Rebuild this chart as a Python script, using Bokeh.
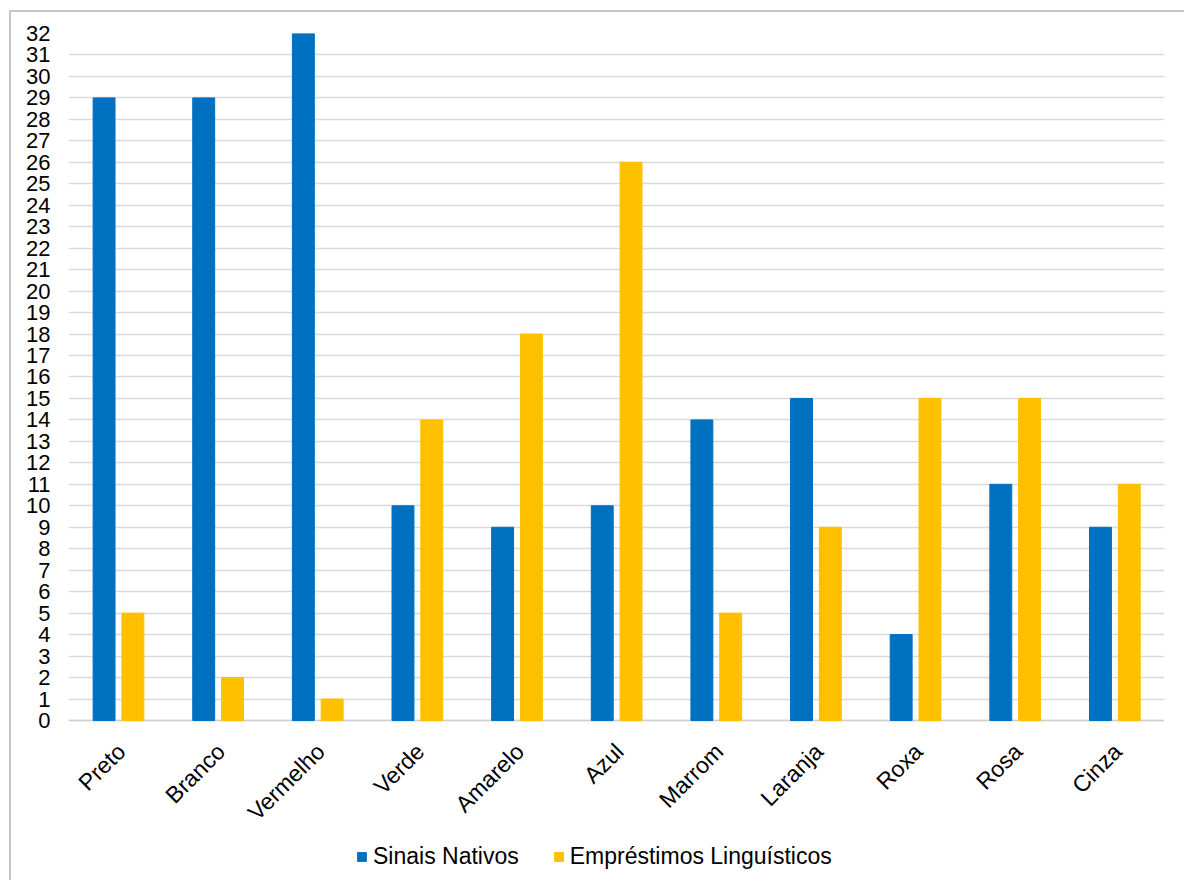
from bokeh.plotting import figure
from bokeh.models import (ColumnDataSource, FixedTicker, Legend, LegendItem,
                          InlineStyleSheet, Span)
from bokeh.core.properties import value
from bokeh.transform import dodge
from bokeh.embed import file_html
from bokeh.resources import INLINE
import math

# Colour terms and counts of signs per type
cores = ["Preto", "Branco", "Vermelho", "Verde", "Amarelo", "Azul",
         "Marrom", "Laranja", "Roxa", "Rosa", "Cinza"]
sinais_nativos = [29, 29, 32, 10, 9, 10, 14, 15, 4, 11, 9]
emprestimos = [5, 2, 1, 14, 18, 26, 5, 9, 15, 15, 11]
y_ticks = list(range(0, 33))

AZUL = "#0070C0"
AMARELO = "#FFC000"
FONTE = "Liberation Sans"

source = ColumnDataSource(data=dict(cores=cores, nativos=sinais_nativos,
                                    emprestimos=emprestimos,
                                    base=[0] * len(cores)))

borda = InlineStyleSheet(css=":host { border-left: 2px solid #c6c6c6; "
                             "border-top: 2px solid #c6c6c6; }")

# the frame runs down to the bottom edge so that the category labels
# and the legend sit inside it, below the zero line
p = figure(x_range=cores, y_range=(-7.546, 32), width=1175, height=870,
           margin=(10, 0, 0, 9), stylesheets=[borda],
           output_backend="svg", toolbar_location=None,
           min_border_left=57, min_border_right=22, min_border_top=21,
           min_border_bottom=0)

r1 = p.vbar(x=dodge("cores", -0.143, range=p.x_range), top="nativos",
            width=0.22, source=source, color=AZUL)
r2 = p.vbar(x=dodge("cores", 0.146, range=p.x_range), top="emprestimos",
            width=0.22, source=source, color=AMARELO)

p.outline_line_color = None
p.xgrid.grid_line_color = None
p.ygrid.grid_line_color = "#D9D9D9"
p.ygrid.grid_line_width = 1.3
p.x_range.range_padding = 0.0

p.yaxis.ticker = FixedTicker(ticks=y_ticks)
p.yaxis.axis_line_color = None
p.yaxis.major_tick_line_color = None
p.yaxis.minor_tick_line_color = None
p.yaxis.major_label_text_font = FONTE
p.yaxis.major_label_text_font_size = "22px"
p.yaxis.major_label_text_color = "#000000"
p.yaxis.major_label_standoff = 12

p.xaxis.visible = False

# zero line across the plot width
p.add_layout(Span(location=0, dimension="width", line_color="#D0D0D0",
                  line_width=1.5, level="underlay"))

# slanted category labels under each pair of bars
p.text(x="cores", y="base", text="cores", source=source,
       angle=math.pi / 4, text_align="right", text_baseline="middle",
       x_offset=3, y_offset=27, text_font=value(FONTE),
       text_font_size="23px", text_color="#000000")

legend = Legend(items=[LegendItem(label="Sinais Nativos", renderers=[r1]),
                       LegendItem(label="Empréstimos Linguísticos", renderers=[r2])],
                location=(288, 12), orientation="horizontal",
                glyph_width=11, glyph_height=11, label_standoff=6,
                spacing=34, padding=0, margin=0,
                border_line_color=None, background_fill_alpha=0,
                label_text_font=FONTE, label_text_font_size="23px",
                label_text_color="#000000")
p.add_layout(legend, "center")

open("out.html", "w").write(file_html(p, INLINE))
